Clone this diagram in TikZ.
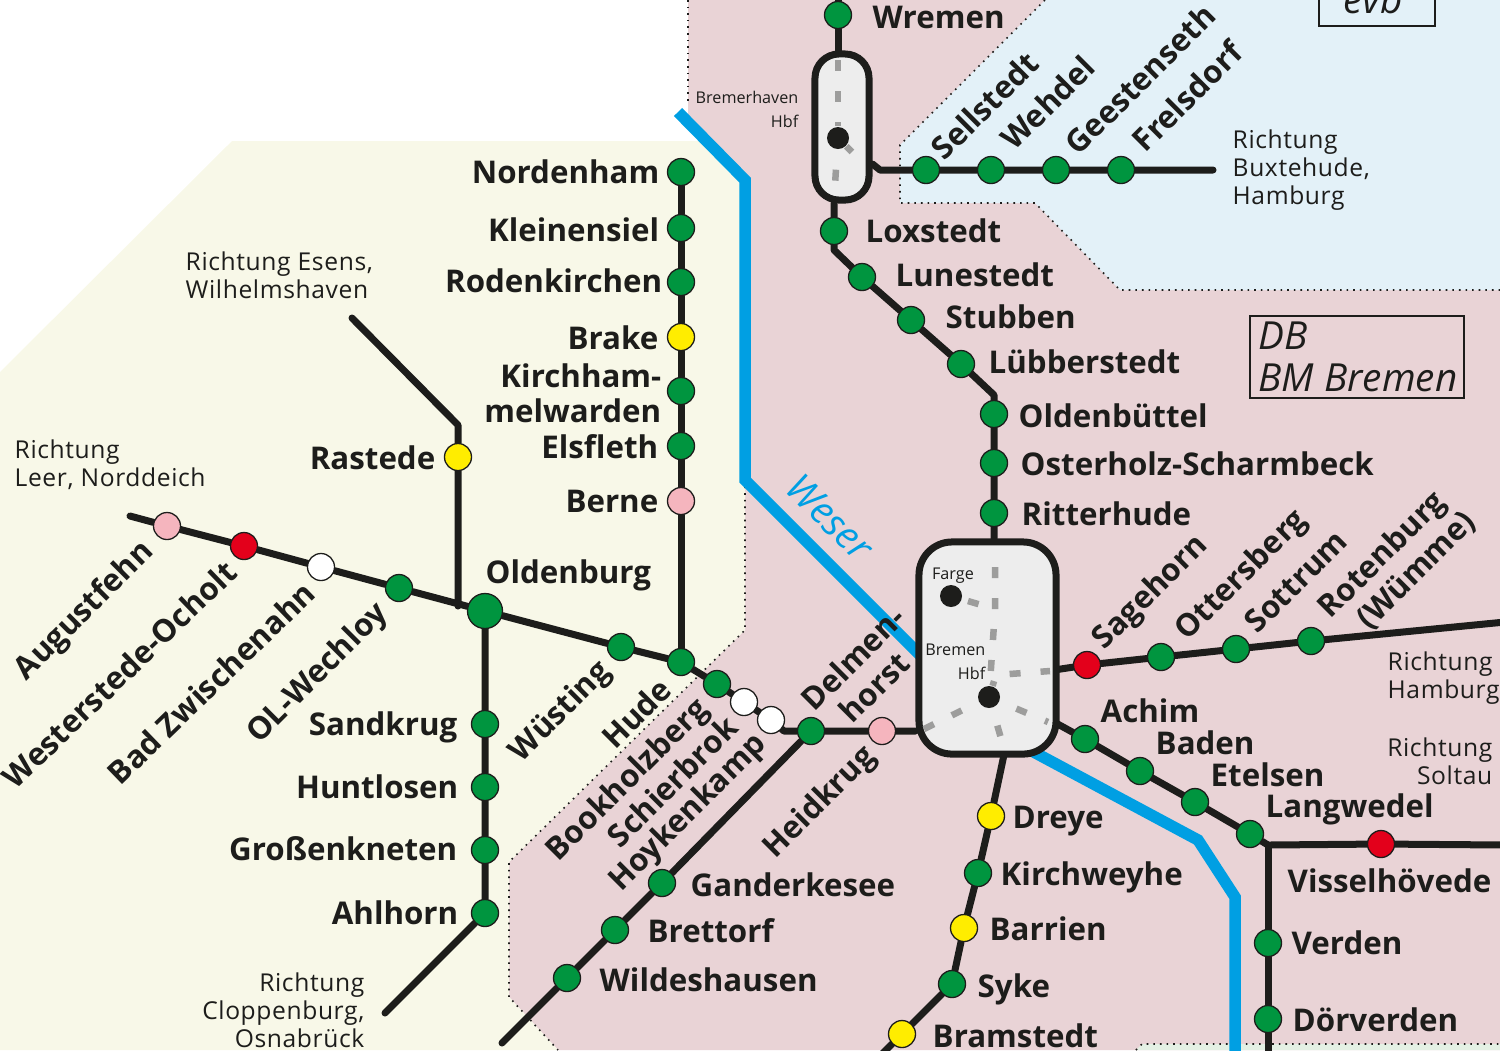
\documentclass[tikz,border=0pt]{standalone}
\usepackage{fontspec}
\setmainfont{Open Sans}
\usetikzlibrary{backgrounds}
\definecolor{pinkarea}{HTML}{E9D3D6}
\definecolor{creamarea}{HTML}{F8F8E8}
\definecolor{bluearea}{HTML}{E3F1F8}
\definecolor{greenarea}{HTML}{E4F0E4}
\definecolor{river}{HTML}{009FE3}
\definecolor{trackblack}{HTML}{1D1D1B}
\definecolor{stgreen}{HTML}{00953F}
\definecolor{stred}{HTML}{E3001B}
\definecolor{styellow}{HTML}{FFED00}
\definecolor{stpink}{HTML}{F5B5BE}
\definecolor{hubgrey}{HTML}{EDEDED}
\definecolor{dashgrey}{HTML}{9D9D9C}
\pgfdeclarelayer{areas}
\pgfdeclarelayer{tracks}
\pgfdeclarelayer{hubs}
\pgfdeclarelayer{inner}
\pgfsetlayers{areas,tracks,hubs,inner,main}
\tikzset{
  x=0.01cm, y=-0.01cm,
  stn/.style={circle, draw=trackblack, line width=0.013cm, fill=#1, minimum size=0.27cm, inner sep=0pt},
  stn/.default=stgreen,
  hubdot/.style={circle, fill=trackblack, minimum size=0.22cm, inner sep=0pt},
  hub/.style={draw=trackblack, line width=0.07cm, fill=hubgrey, inner sep=0pt},
  track/.style={draw=trackblack, line width=0.07cm, line join=round, line cap=round},
  inside/.style={draw=dashgrey, line width=0.065cm, dash pattern=on 0.11cm off 0.2cm},
  border/.style={draw=trackblack, line width=0.016cm, dash pattern=on 0.016cm off 0.05cm},
  stname/.style={font=\bfseries\fontsize{8.9}{10}\selectfont, text=trackblack, text height=6.8pt, text depth=0pt, inner sep=0pt},
  dirtext/.style={font=\fontsize{7}{8}\selectfont\addfontfeatures{LetterSpace=2.5}, text=trackblack, text height=5pt, text depth=0pt, inner sep=0pt},
  hubtext/.style={font=\fontsize{4.6}{6}\selectfont, text=trackblack, text height=3.4pt, text depth=0pt, inner sep=0pt},
  company/.style={font=\itshape\fontsize{11}{12}\selectfont, text=trackblack, text height=7.4pt, text depth=0pt, inner sep=0pt},
}
\begin{document}
\begin{tikzpicture}
\useasboundingbox (0,0) rectangle (1500,1050);
\clip (0,0) rectangle (1500,1050);

% areas
\begin{pgfonlayer}{areas}
\fill[pinkarea] (688,0)--(1500,0)--(1500,1050)--(558,1050)--(509,997)--(509,862)--(745,630)--(745,180)--(688,120)--cycle;
\fill[creamarea] (232,141)--(708,141)--(745,180)--(745,630)--(509,862)--(509,997)--(558,1050)--(0,1050)--(0,372)--cycle;
\fill[bluearea] (1045,0)--(900,145)--(900,203)--(1035,203)--(1120,290)--(1500,290)--(1500,0)--cycle;
\fill[greenarea] (1142,1044)--(1500,1044)--(1500,1050)--(1136,1050)--cycle;
\draw[border] (1045,0)--(900,145)--(900,203)--(1035,203)--(1120,290)--(1500,290);
\draw[border] (688,0)--(688,105);
\draw[border] (745,480)--(745,630)--(509,862)--(509,997)--(558,1050);
\draw[border] (1136,1050)--(1142,1044)--(1500,1044);
\draw[draw=river, line width=0.115cm, line join=miter] (678,112)--(745,180)--(745,480)--(930,665);
\draw[draw=river, line width=0.115cm, line join=miter] (1030,750)--(1198,840)--(1235,897)--(1235,1055);
\end{pgfonlayer}

% hubs
\begin{pgfonlayer}{hubs}
\node[hub, rounded corners=0.24cm, minimum width=0.54cm, minimum height=1.46cm] (bhv) at (842,127) {};
\node[hub, rounded corners=0.33cm, minimum width=1.37cm, minimum height=2.12cm] (hb) at (987.5,648) {};
\end{pgfonlayer}

% stations
\node[stn] (wremen) at (838,15) {};
\node[stn] (loxstedt) at (834,231) {};
\node[stn] (lunestedt) at (862,277) {};
\node[stn] (stubben) at (911,320) {};
\node[stn] (luebberstedt) at (961,364) {};
\node[stn] (oldenbuettel) at (994,414) {};
\node[stn] (osterholz) at (994,463) {};
\node[stn] (ritterhude) at (994,513) {};
\node[stn] (sellstedt) at (926,170) {};
\node[stn] (wehdel) at (991,170) {};
\node[stn] (geestenseth) at (1056,170) {};
\node[stn] (frelsdorf) at (1121,170) {};
\node[stn] (nordenham) at (681,172) {};
\node[stn] (kleinensiel) at (681,228) {};
\node[stn] (rodenkirchen) at (681,282) {};
\node[stn=styellow] (brake) at (681,337) {};
\node[stn] (kirchhammelwarden) at (681,391) {};
\node[stn] (elsfleth) at (681,446) {};
\node[stn=stpink] (berne) at (681,501) {};
\node[stn] (hude) at (681,662) {};
\node[stn=stpink] (augustfehn) at (167,526) {};
\node[stn=stred] (westerstede) at (244,546) {};
\node[stn=white] (zwischenahn) at (321,567) {};
\node[stn] (wechloy) at (399,588) {};
\node[stn, minimum size=0.35cm] (oldenburg) at (485,611) {};
\node[stn] (wuesting) at (621,647) {};
\node[stn] (bookholzberg) at (717,684) {};
\node[stn=white] (schierbrok) at (744,702) {};
\node[stn=white] (hoykenkamp) at (771,720) {};
\node[stn] (delmenhorst) at (811,731) {};
\node[stn=stpink] (heidkrug) at (882,731) {};
\node[stn=styellow] (rastede) at (458,457) {};
\node[stn] (sandkrug) at (485,724) {};
\node[stn] (huntlosen) at (485,787) {};
\node[stn] (grossenkneten) at (485,850) {};
\node[stn] (ahlhorn) at (485,913) {};
\node[stn] (ganderkesee) at (662,883) {};
\node[stn] (brettorf) at (615,930) {};
\node[stn] (wildeshausen) at (567,978) {};
\node[stn=styellow] (dreye) at (991,816) {};
\node[stn] (kirchweyhe) at (978,873) {};
\node[stn=styellow] (barrien) at (964,928) {};
\node[stn] (syke) at (952,984) {};
\node[stn=styellow] (bramstedt) at (902,1034) {};
\node[stn=stred] (sagehorn) at (1087,665) {};
\node[stn] (ottersberg) at (1161,657) {};
\node[stn] (sottrum) at (1236,649) {};
\node[stn] (rotenburg) at (1311,641) {};
\node[stn] (achim) at (1085,739) {};
\node[stn] (baden) at (1140,771) {};
\node[stn] (etelsen) at (1195,802) {};
\node[stn] (langwedel) at (1250,834) {};
\node[stn=stred] (visselhoevede) at (1381,844) {};
\node[stn] (verden) at (1268,943) {};
\node[stn] (doerverden) at (1268,1019) {};
\node[hubdot] (bhvhbf) at (838,138) {};
\node[hubdot] (farge) at (951,596) {};
\node[hubdot] (hbhbf) at (989,697) {};

% free ends
\coordinate (endbuxtehude) at (1213,170);
\coordinate (endesens) at (352,318);
\coordinate (endleer) at (130,516);
\coordinate (endosnabrueck) at (385,1013);
\coordinate (endwildeshausen) at (502,1043);
\coordinate (endbramstedt) at (880,1056);
\coordinate (endhamburg) at (1505,622);
\coordinate (endsoltau) at (1505,845);
\coordinate (enddoerverden) at (1268,1055);
\coordinate (endwremen) at (838,-5);

% tracks
\begin{pgfonlayer}{tracks}
\draw[track] (endwremen)--(wremen)--(wremen|-bhv.north);
\draw[track] (loxstedt|-bhv.south)--(loxstedt)--(834,250)--(lunestedt)--(stubben)--(luebberstedt)--(994,395)--(oldenbuettel)--(osterholz)--(ritterhude)--(ritterhude|-hb.north);
\draw[track] (bhv.east|-0,164)--(880,170)--(sellstedt)--(wehdel)--(geestenseth)--(frelsdorf)--(endbuxtehude);
\draw[track] (nordenham)--(kleinensiel)--(rodenkirchen)--(brake)--(kirchhammelwarden)--(elsfleth)--(berne)--(hude);
\draw[track] (endleer)--(augustfehn)--(westerstede)--(zwischenahn)--(wechloy)--(oldenburg)--(wuesting)--(hude)--(bookholzberg)--(schierbrok)--(hoykenkamp)--(784,731)--(delmenhorst)--(heidkrug)--(hb.west|-heidkrug);
\draw[track] (endesens)--(458,425)--(rastede)--(458,606);
\draw[track] (oldenburg)--(sandkrug)--(huntlosen)--(grossenkneten)--(ahlhorn)--(endosnabrueck);
\draw[track] (delmenhorst)--(ganderkesee)--(brettorf)--(wildeshausen)--(endwildeshausen);
\draw[track] (1005,750)--(dreye)--(kirchweyhe)--(barrien)--(syke)--(bramstedt)--(endbramstedt);
\draw[track] (1054,670)--(sagehorn)--(ottersberg)--(sottrum)--(rotenburg)--(endhamburg);
\draw[track] (1054,722)--(achim)--(baden)--(etelsen)--(langwedel)--(1268,845)--(visselhoevede)--(endsoltau);
\draw[track] (1268,845)--(verden)--(doerverden)--(enddoerverden);
\end{pgfonlayer}

% dashed lines inside the hubs
\begin{pgfonlayer}{inner}
\draw[inside] (838,60)--(bhvhbf);
\draw[inside, dash phase=0.11cm] (bhvhbf)--(834,200);
\draw[inside, dash phase=0.03cm] (bhvhbf)--(866,166);
\draw[inside] (995,567)--(995,610)--(hbhbf);
\draw[inside, dash phase=0.25cm] (farge)--(995,609);
\draw[inside, dash phase=0.06cm] (hbhbf)--(996,675)--(1050,671);
\draw[inside, dash phase=0.13cm] (hbhbf)--(1005,752);
\draw[inside, dash phase=0.13cm] (hbhbf)--(1048,722);
\draw[inside] (924,729)--(hbhbf);
\end{pgfonlayer}

% names
\node[stname, anchor=west] (tWremen) at (872,17) {Wremen};
\node[stname, anchor=west] (tLoxstedt) at (865,231) {Loxstedt};
\node[stname, anchor=west] (tLunestedt) at (895,275) {Lunestedt};
\node[stname, anchor=west] (tStubben) at (945,317) {Stubben};
\node[stname, anchor=west] (tLuebberstedt) at (988,362) {Lübberstedt};
\node[stname, anchor=west] (tOldenbuettel) at (1018,416) {Oldenbüttel};
\node[stname, anchor=west] (tOsterholz) at (1020,464) {Osterholz-Scharmbeck};
\node[stname, anchor=west] (tRitterhude) at (1021,514) {Ritterhude};
\node[stname, anchor=east] (tNordenham) at (660,172) {Nordenham};
\node[stname, anchor=east] (tKleinensiel) at (660,230) {Kleinensiel};
\node[stname, anchor=east] (tRodenkirchen) at (663,281) {Rodenkirchen};
\node[stname, anchor=east] (tBrake) at (659,338) {Brake};
\node[stname, anchor=east] (tKirchham) at (662,376) {Kirchham-};
\node[stname, anchor=east] (tMelwarden) at (662,411) {melwarden};
\node[stname, anchor=east] (tElsfleth) at (659,447) {Elsfleth};
\node[stname, anchor=east] (tBerne) at (659,501) {Berne};
\node[stname, anchor=west] (tOldenburg) at (485,572) {Oldenburg};
\node[stname, anchor=east] (tRastede) at (436,458) {Rastede};
\node[stname, anchor=east] (tSandkrug) at (458,724) {Sandkrug};
\node[stname, anchor=east] (tHuntlosen) at (459,787) {Huntlosen};
\node[stname, anchor=east] (tGrossenkneten) at (458,849) {Großenkneten};
\node[stname, anchor=east] (tAhlhorn) at (459,913) {Ahlhorn};
\node[stname, anchor=west] (tGanderkesee) at (690,885) {Ganderkesee};
\node[stname, anchor=west] (tBrettorf) at (647,931) {Brettorf};
\node[stname, anchor=west] (tWildeshausen) at (599,980) {Wildeshausen};
\node[stname, anchor=west] (tDreye) at (1012,817) {Dreye};
\node[stname, anchor=west] (tKirchweyhe) at (1000,874) {Kirchweyhe};
\node[stname, anchor=west] (tBarrien) at (989,929) {Barrien};
\node[stname, anchor=west] (tSyke) at (977,986) {Syke};
\node[stname, anchor=west] (tBramstedt) at (932,1036) {Bramstedt};
\node[stname, anchor=west] (tAchim) at (1100,711) {Achim};
\node[stname, anchor=west] (tBaden) at (1155,743) {Baden};
\node[stname, anchor=west] (tEtelsen) at (1210,775) {Etelsen};
\node[stname, anchor=west] (tLangwedel) at (1265,806) {Langwedel};
\node[stname, anchor=west] (tVisselhoevede) at (1287,881) {Visselhövede};
\node[stname, anchor=west] (tVerden) at (1291,943) {Verden};
\node[stname, anchor=west] (tDoerverden) at (1292,1020) {Dörverden};

% slanted names
\node[stname, anchor=west, rotate=45] (tSellstedt) at (936,154) {Sellstedt};
\node[stname, anchor=west, rotate=45] (tWehdel) at (1006,144) {Wehdel};
\node[stname, anchor=west, rotate=45] (tGeestenseth) at (1070,149) {Geestenseth};
\node[stname, anchor=west, rotate=45] (tFrelsdorf) at (1137,146) {Frelsdorf};
\node[stname, anchor=east, rotate=45] (tAugustfehn) at (147,544) {Augustfehn};
\node[stname, anchor=east, rotate=44] (tWesterstede) at (231,566) {Westerstede-Ocholt};
\node[stname, anchor=east, rotate=44] (tZwischenahn) at (310,587) {Bad Zwischenahn};
\node[stname, anchor=east, rotate=45] (tWechloy) at (381,606) {OL-Wechloy};
\node[stname, anchor=east, rotate=45] (tWuesting) at (604,664) {Wüsting};
\node[stname, anchor=east, rotate=45] (tHude) at (666,683) {Hude};
\node[stname, anchor=east, rotate=45] (tBookholzberg) at (702,702) {Bookholzberg};
\node[stname, anchor=east, rotate=45] (tSchierbrok) at (732,721) {Schierbrok};
\node[stname, anchor=east, rotate=45] (tHoykenkamp) at (760,737) {Hoykenkamp};
\node[stname, anchor=east, rotate=45] (tHeidkrug) at (869,749) {Heidkrug};
\node[stname, anchor=west, rotate=45] (tDelmen) at (806,705) {Delmen-};
\node[stname, anchor=west, rotate=45] (tHorst) at (844,717) {horst};
\node[stname, anchor=west, rotate=45] (tSagehorn) at (1096,643) {Sagehorn};
\node[stname, anchor=west, rotate=45] (tOttersberg) at (1179,634) {Ottersberg};
\node[stname, anchor=west, rotate=45] (tSottrum) at (1249,627) {Sottrum};
\node[stname, anchor=west, rotate=45] (tRotenburg) at (1322,612) {Rotenburg};
\node[stname, anchor=west, rotate=45] (tWuemme) at (1361,623) {(Wümme)};

% directions
\node[dirtext, anchor=west] (tRichtungEsens) at (185,262) {Richtung Esens,};
\node[dirtext, anchor=west] (tWilhelmshaven) at (185,290) {Wilhelmshaven};
\node[dirtext, anchor=west] (tRichtungLeer) at (14,450) {Richtung};
\node[dirtext, anchor=west] (tLeer) at (14,478) {Leer, Norddeich};
\node[dirtext, anchor=east] (tRichtungClp) at (365,983) {Richtung};
\node[dirtext, anchor=east] (tCloppenburg) at (365,1011) {Cloppenburg,};
\node[dirtext, anchor=east] (tOsnabrueck) at (365,1039) {Osnabrück};
\node[dirtext, anchor=west] (tRichtungBux) at (1232,140) {Richtung};
\node[dirtext, anchor=west] (tBuxtehude) at (1232,168) {Buxtehude,};
\node[dirtext, anchor=west] (tHamburgA) at (1232,196) {Hamburg};
\node[dirtext, anchor=west] (tRichtungHam) at (1387,662) {Richtung};
\node[dirtext, anchor=west] (tHamburgB) at (1387,690) {Hamburg};
\node[dirtext, anchor=east] (tRichtungSol) at (1493,748) {Richtung};
\node[dirtext, anchor=east] (tSoltau) at (1493,776) {Soltau};

% hub texts
\node[hubtext, anchor=east] (tBremerhaven) at (799,98) {Bremerhaven};
\node[hubtext, anchor=east] (tBhvHbf) at (799,122) {Hbf};
\node[hubtext, anchor=center] (tFarge) at (953,573) {Farge};
\node[hubtext, anchor=east] (tBremen) at (986,649) {Bremen};
\node[hubtext, anchor=east] (tHbHbf) at (986,673) {Hbf};

% river name, operators
\node[font=\itshape\fontsize{11}{12}\selectfont, text=river, inner sep=0pt, rotate=-45] (tWeser) at (830,517) {Weser};
\draw[draw=trackblack, line width=0.012cm] (1250,316) rectangle (1464,398);
\node[company, anchor=west] (tDB) at (1258,336) {DB};
\node[company, anchor=west] (tBM) at (1258,378) {BM Bremen};
\draw[draw=trackblack, line width=0.012cm] (1319,-10) rectangle (1435,26);
\node[company, anchor=west] (tEvb) at (1343,0) {evb};
\end{tikzpicture}
\end{document}
